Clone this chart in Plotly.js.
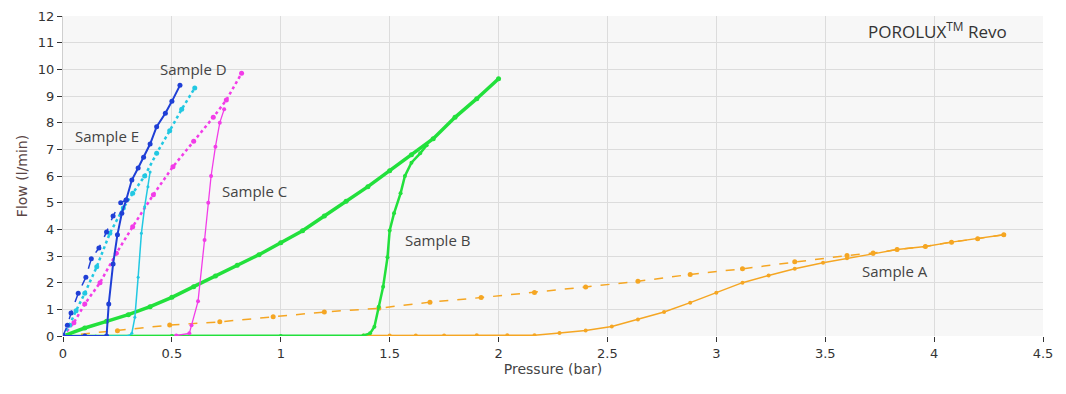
<!DOCTYPE html>
<html><head><meta charset="utf-8">
<script src="https://cdn.plot.ly/plotly-3.0.1.min.js"></script>
<style>html,body{margin:0;padding:0;background:#fff}#c{width:1066px;height:394px}</style>
</head><body><div id="c"></div>
<script>
// Sample A (orange)
const aDryX = [0, 0.25, 0.49, 0.72, 0.965, 1.2, 1.45, 1.685, 1.92, 2.165, 2.4, 2.64, 2.88, 3.12, 3.36, 3.6, 3.72, 3.83, 3.96, 4.08, 4.2, 4.32];
const aDryY = [0, 0.2, 0.41, 0.53, 0.72, 0.9, 1.04, 1.27, 1.44, 1.63, 1.84, 2.05, 2.31, 2.52, 2.78, 3.02, 3.11, 3.24, 3.36, 3.52, 3.65, 3.8];
const aWetX = [1.38, 1.5, 1.62, 1.75, 1.9, 2.04, 2.165, 2.28, 2.4, 2.52, 2.64, 2.76, 2.88, 3.0, 3.12, 3.24, 3.36, 3.49, 3.6, 3.72, 3.83, 3.96, 4.08, 4.2, 4.32];
const aWetY = [0.02, 0.02, 0.02, 0.02, 0.03, 0.03, 0.03, 0.11, 0.21, 0.36, 0.62, 0.9, 1.25, 1.62, 2.0, 2.27, 2.52, 2.75, 2.92, 3.08, 3.24, 3.36, 3.52, 3.65, 3.8];
// Sample B (green)
const bDryX = [0, 0.1, 0.2, 0.3, 0.4, 0.5, 0.6, 0.7, 0.8, 0.9, 1.0, 1.1, 1.2, 1.3, 1.4, 1.5, 1.6, 1.7, 1.8, 1.9, 2.0];
const bDryY = [0, 0.3, 0.55, 0.8, 1.1, 1.45, 1.85, 2.25, 2.65, 3.05, 3.5, 3.95, 4.5, 5.05, 5.6, 6.2, 6.8, 7.4, 8.2, 8.9, 9.65];
const bWetX = [0, 0.5, 1.0, 1.38, 1.41, 1.43, 1.45, 1.47, 1.49, 1.50, 1.52, 1.55, 1.57, 1.60, 1.64, 1.67];
const bWetY = [0, 0, 0, 0.02, 0.1, 0.35, 1.1, 1.85, 2.95, 3.96, 4.6, 5.35, 6.0, 6.5, 6.85, 7.15];
// Sample C (magenta)
const cDryX = [0, 0.05, 0.1, 0.17, 0.245, 0.32, 0.415, 0.505, 0.6, 0.69, 0.75, 0.82];
const cDryY = [0, 0.5, 1.2, 2.0, 3.1, 4.1, 5.3, 6.35, 7.3, 8.2, 8.85, 9.85];
const cWetX = [0.52, 0.58, 0.59, 0.62, 0.65, 0.667, 0.68, 0.70, 0.72, 0.74];
const cWetY = [0.02, 0.1, 0.4, 1.3, 3.6, 5.0, 6.0, 7.1, 8.0, 8.5];
// Sample D (cyan)
const dDryX = [0, 0.03, 0.06, 0.10, 0.155, 0.215, 0.277, 0.32, 0.375, 0.43, 0.49, 0.545, 0.605];
const dDryY = [0, 0.4, 0.95, 1.6, 2.6, 3.85, 4.8, 5.35, 6.0, 6.85, 7.7, 8.5, 9.3];
const dWetX = [0, 0.15, 0.30, 0.316, 0.33, 0.345, 0.36, 0.375, 0.39, 0.40];
const dWetY = [0, 0, 0, 0.1, 0.7, 2.2, 3.85, 4.85, 5.6, 6.15];
// Sample E (blue)
const eDryX = [0, 0.02, 0.037, 0.07, 0.105, 0.13, 0.165, 0.2, 0.23, 0.265, 0.29];
const eDryY = [0, 0.4, 0.86, 1.6, 2.2, 2.9, 3.3, 3.9, 4.5, 5.0, 5.1];
const eWetX = [0, 0.1, 0.2, 0.21, 0.23, 0.25, 0.27, 0.29, 0.316, 0.345, 0.37, 0.40, 0.43, 0.47, 0.5, 0.537];
const eWetY = [0, 0, 0, 1.2, 2.7, 3.8, 4.6, 5.1, 5.85, 6.3, 6.7, 7.2, 7.85, 8.35, 8.8, 9.4];

const labels = ["Sample A", "Sample B", "Sample C", "Sample D", "Sample E"];
const labelX = [3.82, 1.72, 0.88, 0.6, 0.2];
const labelY = [2.45, 3.6, 5.45, 10.0, 7.5];
const xTicks = [0, 0.5, 1, 1.5, 2, 2.5, 3, 3.5, 4, 4.5];
const xTickText = ["0", "0.5", "1", "1.5", "2", "2.5", "3", "3.5", "4", "4.5"];
const yTicks = [0,1,2,3,4,5,6,7,8,9,10,11,12];

const orange = "#f5a623", green = "#22e03c", magenta = "#f23ce8", cyan = "#22c8e2", blue = "#1f3fd6";
function tr(x, y, color, dash, width, msize) {
  return {x: x, y: y, type: "scatter", mode: "lines+markers",
    line: {color: color, width: width, dash: dash},
    marker: {color: color, size: msize}, hoverinfo: "skip"};
}
const data = [
  tr(aDryX, aDryY, orange, "dash", 1.5, 5),
  tr(aWetX, aWetY, orange, "solid", 1.5, 4),
  tr(bWetX, bWetY, green, "solid", 2.5, 4),
  tr(bDryX, bDryY, green, "solid", 3.5, 5),
  tr(cDryX, cDryY, magenta, "dot", 2.5, 5),
  tr(cWetX, cWetY, magenta, "solid", 1.3, 4),
  tr(dDryX, dDryY, cyan, "dot", 2.5, 5),
  tr(dWetX, dWetY, cyan, "solid", 1.5, 3),
  tr(eDryX, eDryY, blue, "dash", 1.5, 5),
  tr(eWetX, eWetY, blue, "solid", 2, 5)
];
const ann = labels.map((t, i) => ({x: labelX[i], y: labelY[i], xref: "x", yref: "y", text: t,
  showarrow: false, font: {family: "Open Sans, sans-serif", size: 15, color: "#444"}}));
ann.push({x: 0.965, y: 0.955, xref: "paper", yref: "paper", xanchor: "right", yanchor: "middle",
  text: "POROLUX<sup>TM</sup> Revo",
  showarrow: false, font: {family: "Open Sans, sans-serif", size: 17, color: "#333"}});

const layout = {
  width: 1066, height: 394,
  margin: {l: 63, r: 23, t: 16, b: 58},
  paper_bgcolor: "#ffffff", plot_bgcolor: "#f7f7f7",
  showlegend: false, hovermode: false,
  xaxis: {range: [0, 4.5], tickvals: xTicks, ticktext: xTickText, ticks: "outside", ticklen: 5,
    tickcolor: "#333", gridcolor: "#dcdcdc", zeroline: false, showline: false,
    tickfont: {family: "DejaVu Sans, sans-serif", size: 13, color: "#333"},
    title: {text: "Pressure (bar)", font: {family: "DejaVu Sans, sans-serif", size: 14, color: "#444"}, standoff: 4}},
  yaxis: {range: [0, 12], tickvals: yTicks, ticks: "outside", ticklen: 5,
    tickcolor: "#333", gridcolor: "#dcdcdc", zeroline: false, showline: true, linecolor: "#cfcfcf",
    tickfont: {family: "DejaVu Sans, sans-serif", size: 13, color: "#333"},
    title: {text: "Flow (l/min)", font: {family: "DejaVu Sans, sans-serif", size: 14, color: "#5a4545"}, standoff: 6}},
  annotations: ann
};
Plotly.newPlot("c", data, layout, {displayModeBar: false, staticPlot: true});
</script></body></html>
